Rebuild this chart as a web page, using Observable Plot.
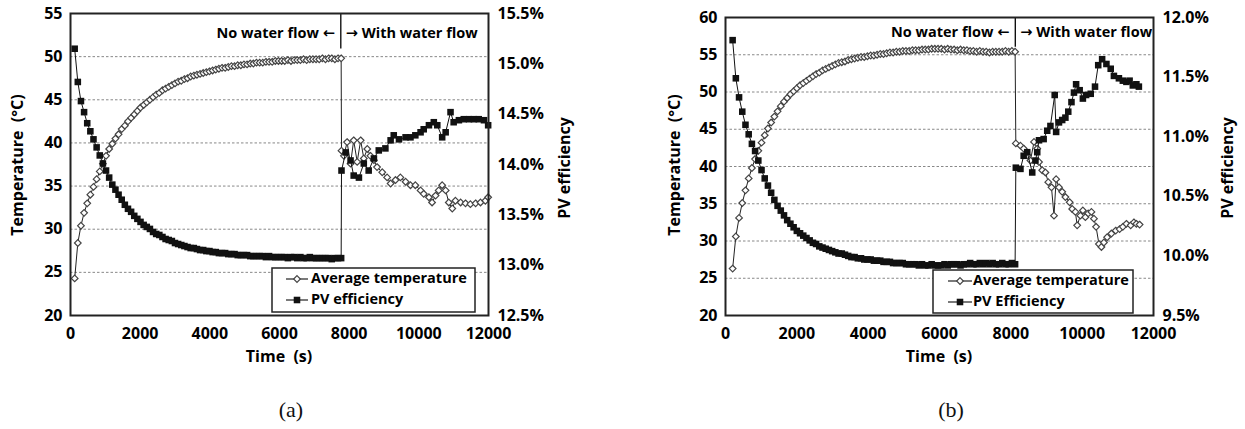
<!DOCTYPE html>
<html>
<head>
<meta charset="utf-8">
<script src="https://cdn.jsdelivr.net/npm/d3@7"></script>
<script src="https://cdn.jsdelivr.net/npm/@observablehq/plot@0.6"></script>
<style>
  body { margin: 0; background: #fff; width: 1245px; height: 429px; position: relative; overflow: hidden; }
  .panel { position: absolute; top: 0; }
  .cap { position: absolute; top: 397px; width: 100px; text-align: center; font-family: "Liberation Serif", serif; font-size: 22px; color: #111; }
</style>
</head>
<body>
<div id="pa" class="panel" style="left:0px"></div>
<div id="pb" class="panel" style="left:640px"></div>
<div class="cap" style="left:241px">(a)</div>
<div class="cap" style="left:901px">(b)</div>
<script>
// Shared time axis ticks (s)
const xTicks = [0, 2000, 4000, 6000, 8000, 10000, 12000];

// ---------- Panel (a) ----------
const aTempTicks = [20, 25, 30, 35, 40, 45, 50, 55];
const aEffTicks = [12.5, 13.0, 13.5, 14.0, 14.5, 15.0, 15.5];

// No water flow: sampling times (s), average temperature (°C), PV efficiency (%)
const aPreTime = [
  120, 210, 300, 390, 480, 570, 660, 750, 840, 930,
  1020, 1110, 1200, 1290, 1380, 1470, 1560, 1650, 1740, 1830,
  1920, 2010, 2100, 2190, 2280, 2370, 2460, 2550, 2640, 2730,
  2820, 2910, 3000, 3090, 3180, 3270, 3360, 3450, 3540, 3630,
  3720, 3810, 3900, 3990, 4080, 4170, 4260, 4350, 4440, 4530,
  4620, 4710, 4800, 4890, 4980, 5070, 5160, 5250, 5340, 5430,
  5520, 5610, 5700, 5790, 5880, 5970, 6060, 6150, 6240, 6330,
  6420, 6510, 6600, 6690, 6780, 6870, 6960, 7050, 7140, 7230,
  7320, 7410, 7500, 7590, 7680, 7770
];
const aPreTemp = [
  24.3, 28.4, 30.4, 31.9, 33.0, 34.0, 34.9, 35.8, 36.7, 37.6,
  38.5, 39.3, 39.9, 40.5, 41.0, 41.6, 42.0, 42.5, 42.9, 43.3,
  43.7, 44.1, 44.4, 44.7, 45.0, 45.3, 45.6, 45.8, 46.1, 46.3,
  46.5, 46.7, 46.9, 47.1, 47.2, 47.4, 47.5, 47.7, 47.8, 47.9,
  48.0, 48.1, 48.2, 48.3, 48.4, 48.5, 48.6, 48.7, 48.7, 48.8,
  48.9, 48.9, 49.0, 49.0, 49.1, 49.1, 49.2, 49.2, 49.3, 49.3,
  49.3, 49.4, 49.4, 49.4, 49.5, 49.5, 49.5, 49.5, 49.6, 49.5,
  49.6, 49.6, 49.6, 49.7, 49.6, 49.7, 49.7, 49.7, 49.7, 49.8,
  49.7, 49.8, 49.8, 49.7, 49.8, 49.8
];
const aPreEff = [
  15.15, 14.82, 14.63, 14.52, 14.41, 14.33, 14.25, 14.17, 14.09, 14.01,
  13.94, 13.87, 13.80, 13.75, 13.70, 13.65, 13.60, 13.56, 13.53, 13.49,
  13.46, 13.43, 13.40, 13.38, 13.36, 13.33, 13.31, 13.30, 13.28, 13.26,
  13.25, 13.24, 13.22, 13.21, 13.20, 13.19, 13.18, 13.17, 13.17, 13.16,
  13.15, 13.15, 13.14, 13.14, 13.13, 13.13, 13.12, 13.12, 13.12, 13.11,
  13.11, 13.11, 13.10, 13.10, 13.10, 13.10, 13.09, 13.09, 13.09, 13.09,
  13.09, 13.08, 13.09, 13.08, 13.08, 13.08, 13.08, 13.08, 13.07, 13.08,
  13.08, 13.07, 13.08, 13.07, 13.07, 13.08, 13.07, 13.07, 13.07, 13.07,
  13.07, 13.07, 13.06, 13.07, 13.07, 13.07
];
// With water flow
const aPostTempTime = [
  7780, 7850, 7940, 8040, 8130, 8230, 8330, 8420, 8520, 8610,
  8710, 8800, 8950, 9090, 9190, 9330, 9470, 9620, 9760, 9900,
  10050, 10140, 10290, 10380, 10480, 10570, 10670, 10770, 10860, 10960,
  11050, 11200, 11340, 11480, 11630, 11770, 11910, 11990
];
const aPostTemp = [
  39.1, 38.5, 40.1, 37.6, 40.3, 37.8, 40.3, 38.2, 39.3, 38.5,
  38.0, 37.2, 36.6, 36.0, 35.3, 35.7, 36.0, 35.5, 35.1, 35.1,
  34.5, 34.1, 33.7, 33.1, 33.9, 34.5, 35.1, 34.5, 33.1, 32.4,
  33.3, 33.1, 33.0, 32.9, 33.0, 33.1, 33.3, 33.7
];
const aPostEffTime = [
  7780, 7900, 8040, 8130, 8280, 8420, 8560, 8710, 8850, 9040,
  9190, 9280, 9430, 9620, 9760, 9900, 10050, 10140, 10290, 10430,
  10530, 10670, 10770, 10910, 11000, 11150, 11290, 11440, 11580, 11720,
  11870, 11990
];
const aPostEff = [
  13.94, 14.12, 14.04, 13.89, 13.87, 14.01, 13.94, 14.06, 14.14, 14.16,
  14.24, 14.29, 14.25, 14.27, 14.27, 14.29, 14.32, 14.35, 14.39, 14.42,
  14.39, 14.27, 14.32, 14.52, 14.42, 14.44, 14.45, 14.45, 14.45, 14.45,
  14.44, 14.39
];

// ---------- Panel (b) ----------
const bTempTicks = [20, 25, 30, 35, 40, 45, 50, 55, 60];
const bEffTicks = [9.5, 10.0, 10.5, 11.0, 11.5, 12.0];

const bPreTime = [
  200, 290, 380, 470, 560, 650, 740, 830, 920, 1010,
  1100, 1190, 1280, 1370, 1460, 1550, 1640, 1730, 1820, 1910,
  2000, 2090, 2180, 2270, 2360, 2450, 2540, 2630, 2720, 2810,
  2900, 2990, 3080, 3170, 3260, 3350, 3440, 3530, 3620, 3710,
  3800, 3890, 3980, 4070, 4160, 4250, 4340, 4430, 4520, 4610,
  4700, 4790, 4880, 4970, 5060, 5150, 5240, 5330, 5420, 5510,
  5600, 5690, 5780, 5870, 5960, 6050, 6140, 6230, 6320, 6410,
  6500, 6590, 6680, 6770, 6860, 6950, 7040, 7130, 7220, 7310,
  7400, 7490, 7580, 7670, 7760, 7850, 7940, 8030, 8120
];
const bPreTemp = [
  26.3, 30.6, 33.1, 35.1, 36.8, 38.4, 39.8, 41.0, 42.1, 43.2,
  44.2, 45.1, 45.9, 46.7, 47.4, 48.1, 48.7, 49.2, 49.7, 50.1,
  50.5, 50.9, 51.2, 51.5, 51.8, 52.1, 52.4, 52.6, 52.9, 53.1,
  53.3, 53.5, 53.7, 53.9, 54.0, 54.1, 54.3, 54.4, 54.5, 54.6,
  54.7, 54.7, 54.8, 54.9, 54.9, 55.0, 55.1, 55.1, 55.2, 55.3,
  55.3, 55.4, 55.4, 55.5, 55.5, 55.5, 55.6, 55.6, 55.6, 55.7,
  55.7, 55.7, 55.8, 55.8, 55.8, 55.8, 55.7, 55.8, 55.7, 55.7,
  55.6, 55.7, 55.6, 55.6, 55.5, 55.5, 55.4, 55.5, 55.4, 55.4,
  55.3, 55.4, 55.4, 55.4, 55.4, 55.5, 55.4, 55.5, 55.4
];
const bPreEff = [
  11.81, 11.49, 11.33, 11.21, 11.10, 11.02, 10.94, 10.88, 10.80, 10.72,
  10.65, 10.59, 10.53, 10.47, 10.42, 10.38, 10.34, 10.30, 10.27, 10.24,
  10.21, 10.19, 10.17, 10.15, 10.13, 10.11, 10.10, 10.08, 10.07, 10.06,
  10.05, 10.04, 10.03, 10.02, 10.02, 10.01, 10.00, 9.99, 9.99, 9.98,
  9.98, 9.97, 9.97, 9.97, 9.96, 9.96, 9.96, 9.95, 9.95, 9.95,
  9.94, 9.94, 9.94, 9.94, 9.93, 9.93, 9.93, 9.93, 9.92, 9.93,
  9.92, 9.92, 9.93, 9.92, 9.92, 9.92, 9.93, 9.92, 9.93, 9.93,
  9.93, 9.92, 9.93, 9.93, 9.94, 9.93, 9.93, 9.94, 9.93, 9.94,
  9.93, 9.94, 9.93, 9.93, 9.94, 9.93, 9.93, 9.94, 9.93
];
const bPostTempTime = [
  8140, 8270, 8360, 8460, 8550, 8650, 8740, 8790, 8880, 8970,
  9050, 9140, 9210, 9270, 9350, 9440, 9530, 9650, 9720, 9810,
  9860, 9950, 10020, 10090, 10170, 10260, 10330, 10390, 10470, 10540,
  10610, 10700, 10820, 10940, 11050, 11140, 11240, 11360, 11450, 11520,
  11610
];
const bPostTemp = [
  43.1, 42.8, 42.4, 41.5, 40.8, 43.3, 42.4, 40.6, 39.5, 39.2,
  37.9, 37.2, 33.4, 38.3, 37.2, 36.6, 35.9, 35.2, 34.3, 33.9,
  32.1, 33.4, 34.1, 33.2, 33.7, 33.9, 33.0, 31.9, 29.6, 29.2,
  29.8, 30.5, 31.0, 31.4, 31.6, 31.9, 32.3, 32.1, 32.5, 32.3,
  32.2
];
const bPostEffTime = [
  8140, 8270, 8360, 8460, 8600, 8690, 8740, 8790, 8920, 9020,
  9110, 9230, 9270, 9350, 9440, 9530, 9610, 9700, 9770, 9830,
  9930, 10020, 10110, 10240, 10360, 10450, 10560, 10680, 10800, 10890,
  11030, 11140, 11240, 11330, 11420, 11520, 11590
];
const bPostEff = [
  10.74, 10.73, 10.84, 10.87, 10.70, 10.80, 10.87, 10.97, 10.98, 11.05,
  11.09, 11.35, 11.04, 11.12, 11.14, 11.16, 11.21, 11.29, 11.37, 11.44,
  11.39, 11.32, 11.35, 11.36, 11.42, 11.60, 11.65, 11.61, 11.57, 11.51,
  11.49, 11.47, 11.46, 11.47, 11.43, 11.44, 11.42
];

const FONT = "'Open Sans', 'DejaVu Sans', sans-serif";
const INK = "#000";

function drawPanel(cfg) {
  const tDomain = [cfg.tempTicks[0], cfg.tempTicks[cfg.tempTicks.length - 1]];
  const effDomain = [cfg.effTicks[0], cfg.effTicks[cfg.effTicks.length - 1]];
  // efficiency is drawn against the temperature scale via a linear map (secondary axis)
  const effToTemp = d3.scaleLinear().domain(effDomain).range(tDomain);

  const temp = cfg.preTime.map((t, i) => ({t, v: cfg.preTemp[i]}))
    .concat(cfg.postTempTime.map((t, i) => ({t, v: cfg.postTemp[i]})));
  const eff = cfg.preTime.map((t, i) => ({t, v: effToTemp(cfg.preEff[i])}))
    .concat(cfg.postEffTime.map((t, i) => ({t, v: effToTemp(cfg.postEff[i])})));

  const plot = Plot.plot({
    width: cfg.width,
    height: 380,
    marginLeft: cfg.mL,
    marginRight: cfg.mR,
    marginTop: cfg.mT,
    marginBottom: 65,
    x: {domain: [0, 12000]},
    y: {domain: tDomain},
    style: {fontFamily: FONT, fontSize: "16px", fontWeight: "700", color: INK, background: "white", overflow: "visible"},
    marks: [
      Plot.gridY(cfg.tempTicks.slice(1, -1), {stroke: "#888", strokeOpacity: 1, strokeWidth: 1, strokeDasharray: "2.5,2"}),
      Plot.line(temp, {x: "t", y: "v", stroke: "#222", strokeWidth: 1}),
      Plot.dot(temp, {x: "t", y: "v", symbol: "diamond2", r: 3, stroke: "#444", strokeWidth: 1.2, fill: "white"}),
      Plot.line(eff, {x: "t", y: "v", stroke: "#111", strokeWidth: 1}),
      Plot.dot(eff, {x: "t", y: "v", symbol: "square", r: 3.7, fill: "#111", stroke: "none"}),
      Plot.ruleX([cfg.switchT], {y1: cfg.divBottom, y2: tDomain[1], stroke: INK, strokeWidth: 1.3}),
      Plot.text(["No water flow \u2190"], {x: cfg.switchT, y: cfg.annotY, text: d => d, textAnchor: "end", dx: -6, fontSize: 14.5, fontWeight: "700", fill: INK}),
      Plot.text(["\u2192 With water flow"], {x: cfg.switchT, y: cfg.annotY, text: d => d, textAnchor: "start", dx: 5, fontSize: 14.5, fontWeight: "700", fill: INK}),
      Plot.frame({stroke: "#222", strokeWidth: 2}),
      Plot.axisX({ticks: xTicks, tickSize: 0, tickPadding: 12, tickFormat: d => String(d), label: null}),
      Plot.axisY({ticks: cfg.tempTicks, anchor: "left", tickSize: 0, tickPadding: 8, label: null}),
      Plot.axisY({ticks: cfg.effTicks.map(effToTemp), anchor: "right", tickSize: 0, tickPadding: 9,
        tickFormat: d => effToTemp.invert(d).toFixed(1) + "%", label: null})
    ]
  });
  document.getElementById(cfg.el).append(plot);

  const svg = d3.select(plot);
  const x0 = cfg.mL, x1 = cfg.width - cfg.mR;

  // axis titles
  svg.append("text").attr("x", (x0 + x1) / 2).attr("y", 358)
    .attr("text-anchor", "middle").attr("dominant-baseline", "middle")
    .attr("font-size", 16).attr("font-weight", 700).attr("fill", INK)
    .text("Time\u00a0 (s)");
  svg.append("text").attr("transform", `translate(${cfg.leftTitleX},165) rotate(-90)`)
    .attr("text-anchor", "middle").attr("dominant-baseline", "middle")
    .attr("font-size", 16).attr("font-weight", 700).attr("fill", INK)
    .text("Temperature\u00a0 (\u00b0C)");
  svg.append("text").attr("transform", `translate(${cfg.rightTitleX},168) rotate(-90)`)
    .attr("text-anchor", "middle").attr("dominant-baseline", "middle")
    .attr("font-size", 16).attr("font-weight", 700).attr("fill", INK)
    .text("PV efficiency");

  // legend box
  const L = cfg.legend;
  const g = svg.append("g");
  g.append("rect").attr("x", L.x).attr("y", L.y).attr("width", L.w).attr("height", L.h)
    .attr("fill", "white").attr("stroke", "#222").attr("stroke-width", 1.5);
  const rows = [
    {label: "Average temperature", sym: d3.symbol(d3.symbolDiamond2, 9 * Math.PI)(), fill: "white", stroke: "#444"},
    {label: L.effLabel, sym: d3.symbol(d3.symbolSquare, 3.7 * 3.7 * Math.PI)(), fill: "#111", stroke: "none"}
  ];
  rows.forEach((r, i) => {
    const yy = L.rows[i];
    g.append("line").attr("x1", L.lx1).attr("x2", L.lx2).attr("y1", yy).attr("y2", yy)
      .attr("stroke", "#222").attr("stroke-width", 1.2);
    g.append("path").attr("d", r.sym).attr("transform", `translate(${(L.lx1 + L.lx2) / 2},${yy})`)
      .attr("fill", r.fill).attr("stroke", r.stroke).attr("stroke-width", 1.2);
    g.append("text").attr("x", L.tx).attr("y", yy)
      .attr("text-anchor", "start").attr("dominant-baseline", "middle")
      .attr("font-size", 14.5).attr("font-weight", 700).attr("fill", INK).text(r.label);
  });
}

drawPanel({
  el: "pa", width: 620, mL: 70, mR: 132, mT: 13,
  tempTicks: aTempTicks, effTicks: aEffTicks,
  preTime: aPreTime, preTemp: aPreTemp, preEff: aPreEff,
  postTempTime: aPostTempTime, postTemp: aPostTemp, postEffTime: aPostEffTime, postEff: aPostEff,
  switchT: 7760, annotY: 52.7, divBottom: 50.9,
  leftTitleX: 19, rightTitleX: 566,
  legend: {x: 272, y: 268, w: 203, h: 44, rows: [279, 300], lx1: 286, lx2: 308, tx: 311, effLabel: "PV efficiency"}
});

drawPanel({
  el: "pb", width: 605, mL: 85, mR: 92, mT: 17,
  tempTicks: bTempTicks, effTicks: bEffTicks,
  preTime: bPreTime, preTemp: bPreTemp, preEff: bPreEff,
  postTempTime: bPostTempTime, postTemp: bPostTemp, postEffTime: bPostEffTime, postEff: bPostEff,
  switchT: 8125, annotY: 58.0, divBottom: 56.0,
  leftTitleX: 36, rightTitleX: 589,
  legend: {x: 293, y: 270, w: 200, h: 43, rows: [281, 302], lx1: 308, lx2: 332, tx: 333, effLabel: "PV Efficiency"}
});
</script>
</body>
</html>
